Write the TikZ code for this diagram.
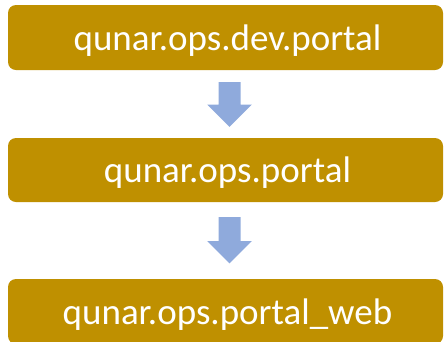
\documentclass[tikz,border=0pt]{standalone}
\usepackage{fontspec}
\setmainfont{Carlito}
\usetikzlibrary{calc}
\definecolor{gold}{HTML}{BF9000}
\definecolor{arrowblue}{HTML}{8FAADC}
\begin{document}
\begin{tikzpicture}[x=1pt,y=-1pt,
  stepbox/.style={fill=gold, draw=none, rounded corners=8pt, minimum width=435pt,
    minimum height=65pt, inner sep=0pt, text=white, text height=26pt, text depth=1pt,
    font=\fontsize{37}{40}\selectfont},
  blockarrow/.style={fill=arrowblue, draw=none}]
\useasboundingbox (0,0) rectangle (444,341);
\clip (0,0) rectangle (444,341);
\node[stepbox] (b1) at (225.5,37.5) {\hspace*{4pt}qunar.ops.dev.portal};
\node[stepbox, minimum height=64pt] (b2) at (225.5,170) {\hspace*{4pt}qunar.ops.portal};
\node[stepbox] (b3) at (225.5,311.5) {\hspace*{4pt}qunar.ops.portal\_web};
% arrow 1
\coordinate (a1) at ($(b1.south)+(4,0)$);
\fill[blockarrow] ($(a1)+(-11,12)$) -- ($(a1)+(11,12)$) -- ($(a1)+(11,34.5)$)
  -- ($(a1)+(22.25,34.5)$) -- ($(b2.north)+(4,-11)$) -- ($(a1)+(-22.25,34.5)$)
  -- ($(a1)+(-11,34.5)$) -- cycle;
% arrow 2
\coordinate (a2) at ($(b2.south)+(4,0)$);
\fill[blockarrow] ($(a2)+(-11,15)$) -- ($(a2)+(11,15)$) -- ($(a2)+(11,39)$)
  -- ($(a2)+(22.25,39)$) -- ($(b3.north)+(4,-15.5)$) -- ($(a2)+(-22.25,39)$)
  -- ($(a2)+(-11,39)$) -- cycle;
\end{tikzpicture}
\end{document}
